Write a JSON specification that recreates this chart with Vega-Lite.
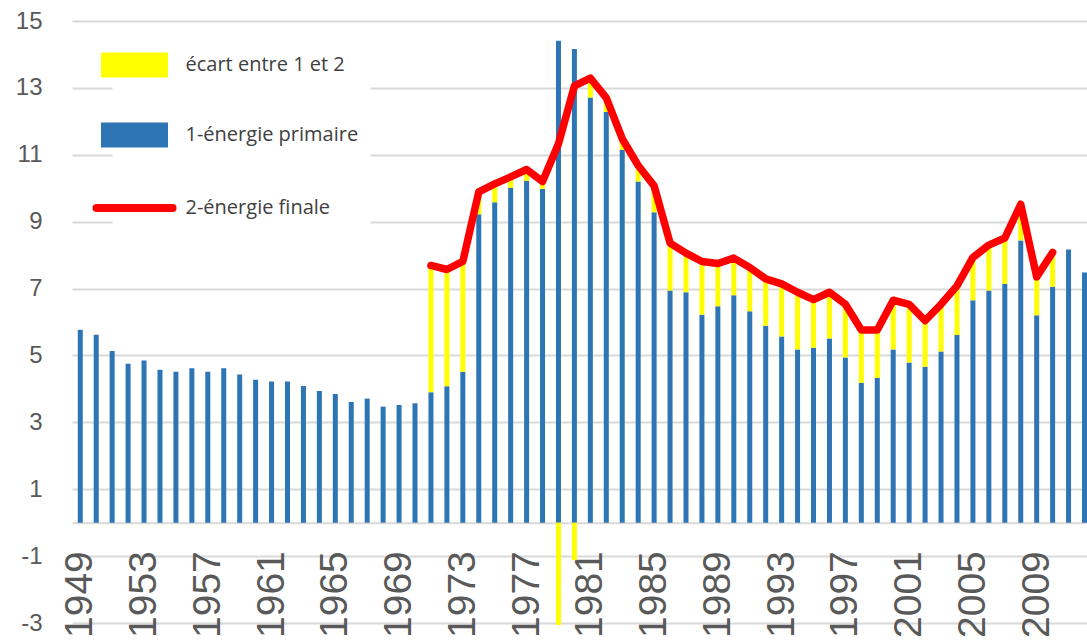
{
  "$schema": "https://vega.github.io/schema/vega-lite/v6.json",
  "width": 1015,
  "height": 602,
  "autosize": {"type": "none"},
  "padding": {"left": 72, "top": 21, "right": 0, "bottom": 20},
  "background": "white",
  "config": {"view": {"stroke": null}, "font": "Open Sans"},
  "data": {
    "values": [
      {"annee": 1949, "primaire": 5.77, "ecart": null, "finale": null},
      {"annee": 1950, "primaire": 5.62, "ecart": null, "finale": null},
      {"annee": 1951, "primaire": 5.13, "ecart": null, "finale": null},
      {"annee": 1952, "primaire": 4.75, "ecart": null, "finale": null},
      {"annee": 1953, "primaire": 4.85, "ecart": null, "finale": null},
      {"annee": 1954, "primaire": 4.57, "ecart": null, "finale": null},
      {"annee": 1955, "primaire": 4.51, "ecart": null, "finale": null},
      {"annee": 1956, "primaire": 4.62, "ecart": null, "finale": null},
      {"annee": 1957, "primaire": 4.51, "ecart": null, "finale": null},
      {"annee": 1958, "primaire": 4.62, "ecart": null, "finale": null},
      {"annee": 1959, "primaire": 4.43, "ecart": null, "finale": null},
      {"annee": 1960, "primaire": 4.27, "ecart": null, "finale": null},
      {"annee": 1961, "primaire": 4.22, "ecart": null, "finale": null},
      {"annee": 1962, "primaire": 4.22, "ecart": null, "finale": null},
      {"annee": 1963, "primaire": 4.09, "ecart": null, "finale": null},
      {"annee": 1964, "primaire": 3.94, "ecart": null, "finale": null},
      {"annee": 1965, "primaire": 3.85, "ecart": null, "finale": null},
      {"annee": 1966, "primaire": 3.61, "ecart": null, "finale": null},
      {"annee": 1967, "primaire": 3.71, "ecart": null, "finale": null},
      {"annee": 1968, "primaire": 3.47, "ecart": null, "finale": null},
      {"annee": 1969, "primaire": 3.52, "ecart": null, "finale": null},
      {"annee": 1970, "primaire": 3.57, "ecart": null, "finale": null},
      {"annee": 1971, "primaire": 3.90, "ecart": 3.79, "finale": 7.69},
      {"annee": 1972, "primaire": 4.08, "ecart": 3.49, "finale": 7.57},
      {"annee": 1973, "primaire": 4.51, "ecart": 3.30, "finale": 7.81},
      {"annee": 1974, "primaire": 9.22, "ecart": 0.67, "finale": 9.89},
      {"annee": 1975, "primaire": 9.58, "ecart": 0.55, "finale": 10.13},
      {"annee": 1976, "primaire": 10.01, "ecart": 0.33, "finale": 10.34},
      {"annee": 1977, "primaire": 10.22, "ecart": 0.34, "finale": 10.56},
      {"annee": 1978, "primaire": 9.98, "ecart": 0.22, "finale": 10.20},
      {"annee": 1979, "primaire": 14.41, "ecart": -3.06, "finale": 11.33},
      {"annee": 1980, "primaire": 14.16, "ecart": -1.12, "finale": 13.06},
      {"annee": 1981, "primaire": 12.71, "ecart": 0.58, "finale": 13.29},
      {"annee": 1982, "primaire": 12.28, "ecart": 0.42, "finale": 12.70},
      {"annee": 1983, "primaire": 11.15, "ecart": 0.33, "finale": 11.48},
      {"annee": 1984, "primaire": 10.20, "ecart": 0.48, "finale": 10.68},
      {"annee": 1985, "primaire": 9.28, "ecart": 0.79, "finale": 10.07},
      {"annee": 1986, "primaire": 6.94, "ecart": 1.42, "finale": 8.36},
      {"annee": 1987, "primaire": 6.89, "ecart": 1.17, "finale": 8.06},
      {"annee": 1988, "primaire": 6.22, "ecart": 1.59, "finale": 7.81},
      {"annee": 1989, "primaire": 6.47, "ecart": 1.28, "finale": 7.75},
      {"annee": 1990, "primaire": 6.80, "ecart": 1.11, "finale": 7.91},
      {"annee": 1991, "primaire": 6.32, "ecart": 1.31, "finale": 7.63},
      {"annee": 1992, "primaire": 5.89, "ecart": 1.40, "finale": 7.29},
      {"annee": 1993, "primaire": 5.57, "ecart": 1.57, "finale": 7.14},
      {"annee": 1994, "primaire": 5.18, "ecart": 1.71, "finale": 6.89},
      {"annee": 1995, "primaire": 5.23, "ecart": 1.44, "finale": 6.67},
      {"annee": 1996, "primaire": 5.51, "ecart": 1.38, "finale": 6.89},
      {"annee": 1997, "primaire": 4.94, "ecart": 1.59, "finale": 6.53},
      {"annee": 1998, "primaire": 4.18, "ecart": 1.58, "finale": 5.76},
      {"annee": 1999, "primaire": 4.33, "ecart": 1.43, "finale": 5.76},
      {"annee": 2000, "primaire": 5.18, "ecart": 1.47, "finale": 6.65},
      {"annee": 2001, "primaire": 4.79, "ecart": 1.74, "finale": 6.53},
      {"annee": 2002, "primaire": 4.66, "ecart": 1.38, "finale": 6.04},
      {"annee": 2003, "primaire": 5.12, "ecart": 1.41, "finale": 6.53},
      {"annee": 2004, "primaire": 5.61, "ecart": 1.47, "finale": 7.08},
      {"annee": 2005, "primaire": 6.65, "ecart": 1.28, "finale": 7.93},
      {"annee": 2006, "primaire": 6.94, "ecart": 1.36, "finale": 8.30},
      {"annee": 2007, "primaire": 7.14, "ecart": 1.37, "finale": 8.51},
      {"annee": 2008, "primaire": 8.44, "ecart": 1.08, "finale": 9.52},
      {"annee": 2009, "primaire": 6.20, "ecart": 1.15, "finale": 7.35},
      {"annee": 2010, "primaire": 7.05, "ecart": 1.03, "finale": 8.08},
      {"annee": 2011, "primaire": 8.17, "ecart": null, "finale": null},
      {"annee": 2012, "primaire": 7.48, "ecart": null, "finale": null}
    ]
  },
  "layer": [
    {
      "transform": [{"fold": ["primaire", "ecart"], "as": ["serie", "valeur"]}],
      "mark": {"type": "bar"},
      "encoding": {
        "x": {
          "field": "annee",
          "type": "ordinal",
          "scale": {"paddingInner": 0.686, "paddingOuter": 0.181, "align": 1},
          "axis": {
            "title": null,
            "values": [1949, 1953, 1957, 1961, 1965, 1969, 1973, 1977, 1981, 1985, 1989, 1993, 1997, 2001, 2005, 2009],
            "labelAngle": -90,
            "labelFont": "Liberation Sans",
            "labelFontSize": 39,
            "labelColor": "#595959",
            "labelPadding": 28,
            "labelOverlap": false,
            "labelBound": false,
            "ticks": false,
            "tickSize": 0,
            "grid": false,
            "domainColor": "#d9d9d9",
            "domainWidth": 2,
            "offset": -100.3
          }
        },
        "y": {
          "field": "valeur",
          "type": "quantitative",
          "stack": "zero",
          "scale": {"domain": [-3, 15], "nice": false, "zero": false},
          "axis": {
            "title": null,
            "values": [-3, -1, 1, 3, 5, 7, 9, 11, 13, 15],
            "labelExpr": "replace(datum.label, '−', '-')",
            "domain": false,
            "ticks": false,
            "tickSize": 0,
            "labelPadding": 30,
            "labelFont": "Liberation Sans",
            "labelFontSize": 24,
            "labelColor": "#595959",
            "gridColor": "#d9d9d9",
            "gridWidth": 2.2
          }
        },
        "color": {
          "field": "serie",
          "type": "nominal",
          "scale": {"domain": ["ecart", "primaire", "finale"], "range": ["#FFFF00", "#2E75B6", "#FF0000"]},
          "legend": {
            "orient": "none",
            "legendX": 40.5,
            "legendY": 22,
            "title": null,
            "direction": "vertical",
            "symbolSize": 5776,
            "labelExpr": "datum.value === 'ecart' ? 'écart entre 1 et 2' : datum.value === 'primaire' ? '1-énergie primaire' : '2-énergie finale'",
            "labelFont": "Open Sans",
            "labelFontSize": 20,
            "labelLimit": 400,
            "labelColor": "#404040",
            "labelOffset": 41,
            "rowPadding": 44,
            "fillColor": "white",
            "padding": 12,
            "encode": {
              "symbols": {
                "update": {
                  "shape": {"signal": "datum.value === 'finale' ? 'stroke' : 'M-1,-0.373H1V0.373H-1Z'"},
                  "size": {"signal": "datum.value === 'finale' ? 5776 : 4489"},
                  "fill": {"signal": "datum.value === 'finale' ? 'transparent' : scale('color', datum.value)"},
                  "stroke": {"signal": "datum.value === 'finale' ? '#FF0000' : 'transparent'"},
                  "strokeWidth": {"signal": "datum.value === 'finale' ? 8 : 0"},
                  "strokeCap": {"value": "round"},
                  "opacity": {"value": 1}
                }
              }
            }
          }
        },
        "order": {"field": "serie", "sort": "descending"}
      }
    },
    {
      "mark": {"type": "line", "strokeWidth": 7.5, "strokeJoin": "round", "strokeCap": "round"},
      "encoding": {
        "x": {"field": "annee", "type": "ordinal"},
        "y": {"field": "finale", "type": "quantitative"},
        "color": {"datum": "finale"}
      }
    }
  ]
}
